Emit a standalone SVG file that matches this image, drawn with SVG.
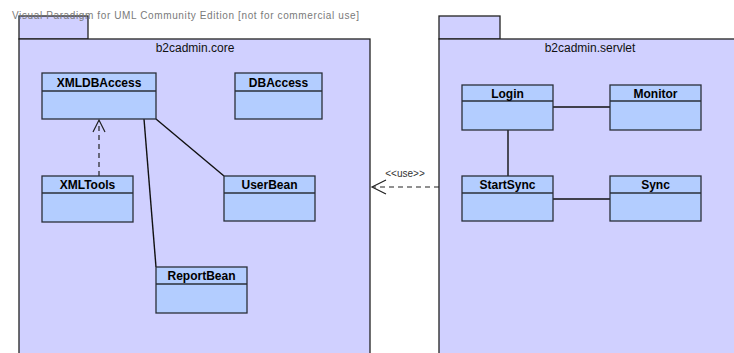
<svg xmlns="http://www.w3.org/2000/svg" width="734" height="353" viewBox="0 0 734 353">
  <style>
    .pkg { fill: #d0d0ff; stroke: #222; stroke-width: 1.3; }
    .cls { fill: #b3cdff; stroke: #2a2f3a; stroke-width: 1.3; }
    .name { font-family: "Liberation Sans", Arial, sans-serif; font-size: 12px; font-weight: bold; fill: #000; text-anchor: middle; }
    .ptitle { font-family: "Liberation Sans", Arial, sans-serif; font-size: 12px; fill: #111; text-anchor: middle; }
    .assoc { stroke: #111; stroke-width: 1.4; fill: none; }
    .dep { stroke: #222; stroke-width: 1.2; fill: none; stroke-dasharray: 5 4; }
    .head { stroke: #222; stroke-width: 1.2; fill: none; }
  </style>

  <!-- package b2cadmin.core -->
  <g id="pkg-core">
    <rect class="pkg" x="19" y="16" width="69" height="23"/>
    <rect class="pkg" x="19" y="39" width="351" height="330"/>
    <text class="ptitle" x="195" y="52">b2cadmin.core</text>
  </g>

  <!-- package b2cadmin.servlet -->
  <g id="pkg-servlet">
    <rect class="pkg" x="439" y="16" width="61" height="23"/>
    <rect class="pkg" x="439" y="39" width="310" height="330"/>
    <text class="ptitle" x="590" y="52">b2cadmin.servlet</text>
  </g>

  <!-- watermark, painted over the package tab -->
  <text x="12" y="18.5" font-family="Liberation Sans, Arial, sans-serif" font-size="10" fill="#7a7a7a" textLength="347">Visual Paradigm for UML Community Edition [not for commercial use]</text>

  <!-- connectors -->
  <g id="connectors">
    <!-- XMLTools ..> XMLDBAccess -->
    <line class="dep" x1="99" y1="176" x2="99" y2="121"/>
    <polyline class="head" points="93,132 99,120 105,132"/>
    <!-- associations in core -->
    <line class="assoc" x1="144" y1="119" x2="156" y2="267"/>
    <line class="assoc" x1="156" y1="119" x2="224" y2="176"/>
    <!-- associations in servlet -->
    <line class="assoc" x1="553" y1="107" x2="610" y2="107"/>
    <line class="assoc" x1="508" y1="130" x2="508" y2="176"/>
    <line class="assoc" x1="553" y1="199" x2="610" y2="199"/>
    <!-- servlet ..use..> core -->
    <line class="dep" x1="439" y1="187" x2="373" y2="187"/>
    <polyline class="head" points="386,180 372,187 386,194"/>
    <text x="405" y="177" font-family="Liberation Sans, Arial, sans-serif" font-size="10" fill="#333" text-anchor="middle">&lt;&lt;use&gt;&gt;</text>
  </g>

  <!-- classes -->
  <g id="XMLDBAccess">
    <rect class="cls" x="42" y="73" width="114" height="46"/>
    <line class="cls" x1="42" y1="91" x2="156" y2="91"/>
    <text class="name" x="99" y="87">XMLDBAccess</text>
  </g>
  <g id="DBAccess">
    <rect class="cls" x="235" y="73" width="87" height="46"/>
    <line class="cls" x1="235" y1="91" x2="322" y2="91"/>
    <text class="name" x="278.5" y="87">DBAccess</text>
  </g>
  <g id="XMLTools">
    <rect class="cls" x="42" y="176" width="91" height="46"/>
    <line class="cls" x1="42" y1="193" x2="133" y2="193"/>
    <text class="name" x="87.5" y="189">XMLTools</text>
  </g>
  <g id="UserBean">
    <rect class="cls" x="224" y="176" width="91" height="45"/>
    <line class="cls" x1="224" y1="193" x2="315" y2="193"/>
    <text class="name" x="269.5" y="189">UserBean</text>
  </g>
  <g id="ReportBean">
    <rect class="cls" x="156" y="267" width="91" height="46"/>
    <line class="cls" x1="156" y1="284" x2="247" y2="284"/>
    <text class="name" x="201.5" y="280">ReportBean</text>
  </g>
  <g id="Login">
    <rect class="cls" x="462" y="85" width="91" height="45"/>
    <line class="cls" x1="462" y1="101" x2="553" y2="101"/>
    <text class="name" x="507.5" y="98">Login</text>
  </g>
  <g id="Monitor">
    <rect class="cls" x="610" y="85" width="91" height="45"/>
    <line class="cls" x1="610" y1="101" x2="701" y2="101"/>
    <text class="name" x="655.5" y="98">Monitor</text>
  </g>
  <g id="StartSync">
    <rect class="cls" x="462" y="176" width="91" height="45"/>
    <line class="cls" x1="462" y1="193" x2="553" y2="193"/>
    <text class="name" x="507.5" y="189">StartSync</text>
  </g>
  <g id="Sync">
    <rect class="cls" x="610" y="176" width="91" height="45"/>
    <line class="cls" x1="610" y1="193" x2="701" y2="193"/>
    <text class="name" x="655.5" y="189">Sync</text>
  </g>
</svg>
